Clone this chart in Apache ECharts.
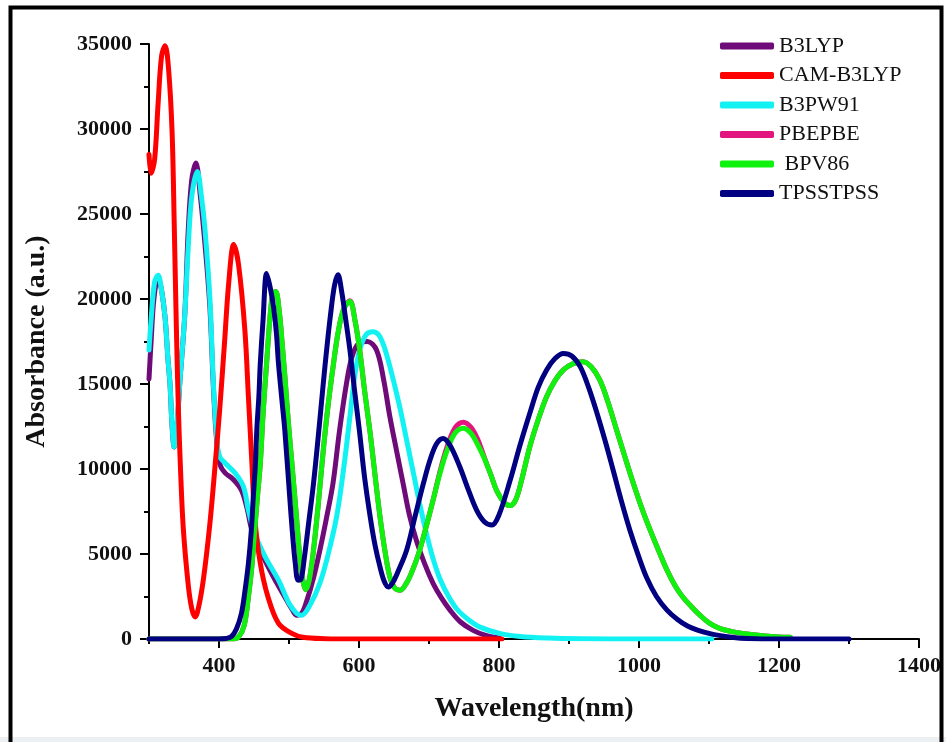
<!DOCTYPE html>
<html>
<head>
<meta charset="utf-8">
<script src="https://cdn.jsdelivr.net/npm/echarts@6/dist/echarts.min.js"></script>
<style>
html,body{margin:0;padding:0;background:#fff;}
#c{width:946px;height:742px;}
</style>
</head>
<body>
<div id="c"></div>
<script>
// ---- data (wavelength in nm, absorbance in a.u.) ----
var seriesNames = ['B3LYP', 'CAM-B3LYP', 'B3PW91', 'PBEPBE', ' BPV86', 'TPSSTPSS'];
var xTickLabels = [400, 600, 800, 1000, 1200, 1400];
var yTickLabels = [0, 5000, 10000, 15000, 20000, 25000, 30000, 35000];

var camWl  = [300,303,308,313,318,323,328,333,336,339,342,345,349,356,361,366,371,378,387,394,401,408,414,421,428,437,442,447,451,459,470,485,504,520,550,600,700,804];
var camAbs = [28500,27400,28200,31500,34300,34900,33500,29800,24500,18500,13500,10000,6500,3200,1800,1300,1900,3600,6800,10000,13500,17500,21000,23200,22000,18150,14250,10350,7170,4450,2470,920,330,100,20,0,0,0];

var b3lypWl  = [300,303,307,313,318,323,327,330,333,336,340,344,351,356,361,367,373,380,387,392,397,402,409,420,432,440,447,459,475,494,505,511,518,525,535,544,553,563,572,582,590,600,612,625,635,644,654,663,672,682,694,706,718,730,745,763,780,800];
var b3lypAbs = [15300,17500,20000,21300,20500,18900,16500,15000,12500,11300,12500,15060,19000,24000,27000,28000,26200,23200,19500,14800,11500,10200,9760,9400,8760,7700,6400,5210,3860,2470,1700,1400,1500,2200,3600,5200,7000,9200,12200,15000,16600,17400,17500,17000,15300,13100,11000,9150,7300,5800,4400,3260,2400,1700,1000,510,230,60];

var b3pw91Wl  = [300,303,308,313,318,323,327,330,333,336,340,344,351,356,361,369,375,380,387,392,397,401,409,423,435,442,451,466,485,500,511,518,530,544,556,568,578,587,594,601,610,620,628,635,643,651,659,668,678,687,697,706,716,728,740,756,773,801,830,870,920,1000,1104];
var b3pw91Abs = [17000,18800,21000,21400,20500,18900,16500,15000,12500,11300,12600,15060,19000,23000,26000,27500,26000,24070,20000,15000,11700,10720,10340,9760,8950,7580,6220,4830,3460,2100,1500,1400,2000,3270,5000,7190,10000,13080,15500,17000,17900,18080,17900,17300,16200,14900,13500,11700,9700,7900,6100,4700,3500,2500,1750,1150,700,330,150,60,20,0,0];

var bpvWl  = [300,420,428,436,442,447,451,455,459,463,468,473,477,481,486,490,494,497,500,504,509,512,516,520,524,529,535,542,549,556,563,570,578,587,594,601,608,616,623,630,637,644,651,659,668,676,685,694,706,716,725,737,749,760,770,778,788,797,808,816,824,832,844,856,868,880,892,906,920,932,944,956,968,980,992,1004,1016,1028,1040,1052,1062,1075,1087,1100,1116,1135,1154,1180,1200,1216];
var bpvAbs = [0,0,120,800,2470,4300,6400,8400,10330,13280,16220,19000,20300,20440,19300,17500,15500,13860,12290,10400,8000,6500,4600,3400,2900,3500,5220,8000,11110,13800,16020,18000,19400,19850,18800,17000,14600,12100,9600,7190,5200,3650,3000,2870,3300,4000,5000,6300,8200,9800,11000,12100,12400,12100,11400,10720,9700,8700,8000,7850,8200,9300,11310,12900,14250,15200,15830,16200,16310,16000,15240,13900,12290,10700,9150,7700,6400,5200,4050,3100,2500,1900,1400,950,610,420,300,180,120,100];
var pbeAbs = [0,0,120,800,2470,4300,6400,8400,10330,13280,16220,19000,20300,20440,19300,17500,15500,13860,12290,10400,8000,6500,4600,3400,2900,3500,5220,8000,11110,13800,16020,18000,19400,19900,18800,17000,14600,12100,9600,7190,5200,3650,3000,2870,3300,4000,5000,6300,8200,9900,11200,12400,12750,12450,11700,10800,9700,8700,8000,7850,8200,9300,11310,12900,14250,15200,15830,16200,16310,16000,15240,13900,12290,10700,9150,7700,6400,5200,4050,3100,2500,1900,1400,950,610,420,300,180,120,100];

var tpssWl  = [300,400,410,418,425,432,437,442,446,449,452,454,457,459,463,468,473,478,482,485,490,494,501,505,509,513,517,522,528,535,542,549,554,559,565,570,575,581,587,594,601,608,616,623,630,636,642,648,655,668,680,692,702,711,720,730,744,756,768,779,790,800,816,830,844,856,868,880,892,904,916,928,940,952,963,975,987,1000,1011,1025,1040,1055,1070,1087,1100,1116,1135,1154,1200,1300];
var tpssAbs = [0,0,30,150,600,1500,2800,4440,6300,8360,10300,12290,14300,16220,18800,21500,20700,19500,18000,16200,14000,12290,8360,6200,4440,3460,3500,4800,6800,9150,12000,15040,17100,18970,20800,21420,20500,18800,17000,14500,12100,9500,7190,5500,4240,3400,3060,3300,3900,5220,7200,9150,10600,11500,11800,11400,10130,8800,7580,6900,6700,7300,9350,11400,13280,14800,15830,16500,16800,16650,16020,14800,13280,11600,9940,8100,6400,4800,3600,2500,1700,1150,750,480,330,200,90,30,0,0];

function zip(xs, ys) { return xs.map(function (x, i) { return [x, ys[i]]; }); }

var colors = {
  'B3LYP': '#6e0b78',
  'CAM-B3LYP': '#ff0000',
  'B3PW91': '#12f2f2',
  'PBEPBE': '#e3157f',
  ' BPV86': '#0ef20e',
  'TPSSTPSS': '#000080'
};

function line(name, xs, ys) {
  return {
    name: name, type: 'line', data: zip(xs, ys),
    showSymbol: false, symbol: 'none', smooth: 0.35,
    color: colors[name],
    lineStyle: { width: 5, color: colors[name], cap: 'round', join: 'round' },
    emphasis: { disabled: true }, animation: false
  };
}

var serif = 'Liberation Serif, Times New Roman, serif';
var chart = echarts.init(document.getElementById('c'), null, { renderer: 'canvas' });
chart.setOption({
  backgroundColor: '#ffffff',
  animation: false,
  grid: { left: 149, right: 27, top: 44, bottom: 103, containLabel: false },
  legend: {
    data: seriesNames,
    orient: 'vertical', left: 720, top: 35, padding: 0,
    icon: 'roundRect', itemWidth: 54, itemHeight: 7, itemGap: 7.5,
    textStyle: { fontFamily: serif, fontSize: 22, color: '#111' },
    selectedMode: false
  },
  xAxis: [{
    type: 'value', min: 300, max: 1400, interval: 100,
    name: 'Wavelength(nm)', nameLocation: 'middle', nameGap: 56,
    nameTextStyle: { fontFamily: serif, fontSize: 28, fontWeight: 'bold', color: '#111' },
    axisLine: { show: true, onZero: false, lineStyle: { color: '#000', width: 2 } },
    axisTick: { show: true, length: 5, lineStyle: { color: '#000', width: 2 } },
    axisLabel: {
      margin: 16, fontFamily: serif, fontSize: 22, fontWeight: 'bold', color: '#111',
      formatter: function (v) { return xTickLabels.indexOf(v) >= 0 ? String(v) : ''; }
    },
    splitLine: { show: false }
  }, {
    type: 'value', min: 300, max: 1400, position: 'bottom',
    axisLine: { show: false },
    axisTick: { show: true, length: 9, customValues: xTickLabels, lineStyle: { color: '#000', width: 2 } },
    axisLabel: { show: false },
    splitLine: { show: false }
  }],
  yAxis: {
    type: 'value', min: 0, max: 35000, interval: 5000,
    name: 'Absorbance (a.u.)', nameLocation: 'middle', nameGap: 98,
    nameTextStyle: { fontFamily: serif, fontSize: 28, fontWeight: 'bold', color: '#111' },
    axisLine: { show: true, onZero: false, lineStyle: { color: '#000', width: 2 } },
    axisTick: { show: true, length: 9, lineStyle: { color: '#000', width: 2 } },
    minorTick: { show: true, splitNumber: 2, length: 5, lineStyle: { color: '#000', width: 2 } },
    axisLabel: {
      margin: 17, fontFamily: serif, fontSize: 22, fontWeight: 'bold', color: '#111',
      formatter: function (v) { return yTickLabels.indexOf(v) >= 0 ? String(v) : ''; }
    },
    splitLine: { show: false }
  },
  graphic: [
    { type: 'rect', silent: true, z: 100, shape: { x: 0, y: 737, width: 946, height: 5 }, style: { fill: '#edf0f3' } },
    { type: 'rect', silent: true, z: 101, shape: { x: 10.5, y: 7.5, width: 931, height: 745 }, style: { fill: 'none', stroke: '#000', lineWidth: 4 } }
  ],
  series: [
    line('B3LYP', b3lypWl, b3lypAbs),
    line('B3PW91', b3pw91Wl, b3pw91Abs),
    line('CAM-B3LYP', camWl, camAbs),
    line('PBEPBE', bpvWl, pbeAbs),
    line(' BPV86', bpvWl, bpvAbs),
    line('TPSSTPSS', tpssWl, tpssAbs)
  ]
});
</script>
</body>
</html>
